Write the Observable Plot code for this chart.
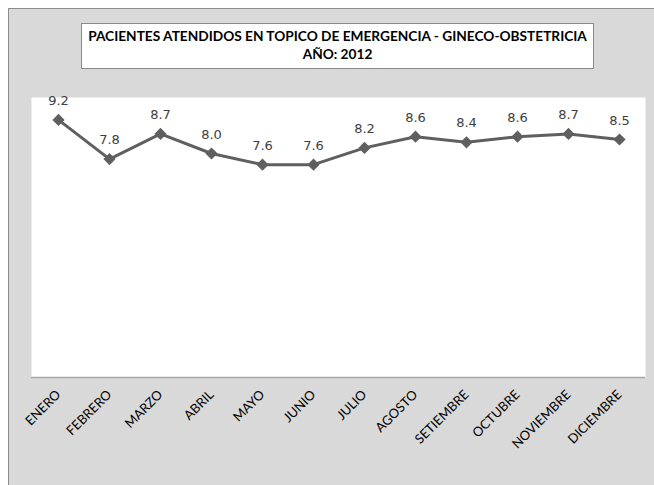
<!DOCTYPE html>
<html>
<head>
<meta charset="utf-8">
<script src="https://cdn.jsdelivr.net/npm/d3@7"></script>
<script src="https://cdn.jsdelivr.net/npm/@observablehq/plot@0.6"></script>
<style>
  html, body { margin: 0; padding: 0; background: #ffffff; }
  #wrap { position: relative; width: 654px; height: 485px; overflow: hidden; }
  #bg { position: absolute; left: 8px; top: 8px; width: 700px; height: 520px; background: #d9d9d9; border-left: 1px solid #8c8c8c; border-top: 1px solid #8c8c8c; }
  #chart { position: absolute; left: 0; top: 0; }
  #title { position: absolute; left: 81px; top: 23px; width: 511px; height: 41px; background: #fff; border: 1.5px solid #8a8a8a;
    font-family: Lato, sans-serif; font-weight: bold; font-size: 13.7px; line-height: 18px; text-align: center; color: #000; padding-top: 3px; white-space: nowrap; }
</style>
</head>
<body>
<div id="wrap">
  <div id="bg"></div>
  <div id="chart"></div>
  <div id="title">PACIENTES ATENDIDOS EN TOPICO DE EMERGENCIA - GINECO-OBSTETRICIA<br>AÑO: 2012</div>
</div>
<script>
const months = ["ENERO","FEBRERO","MARZO","ABRIL","MAYO","JUNIO","JULIO","AGOSTO","SETIEMBRE","OCTUBRE","NOVIEMBRE","DICIEMBRE"];
const values = [9.2, 7.8, 8.7, 8.0, 7.6, 7.6, 8.2, 8.6, 8.4, 8.6, 8.7, 8.5];
const valueLabels = ["9.2","7.8","8.7","8.0","7.6","7.6","8.2","8.6","8.4","8.6","8.7","8.5"];

const data = months.map((m, i) => ({month: m, value: values[i], label: valueLabels[i]}));

const chart = Plot.plot({
  width: 654,
  height: 485,
  marginLeft: 31,
  marginRight: 9,
  marginTop: 97,
  marginBottom: 108,
  style: {background: "transparent", overflow: "visible"},
  x: {type: "point", domain: months, padding: 0.5, label: null},
  y: {domain: [0, 10], axis: null},
  marks: [
    Plot.frame({fill: "white", stroke: "none"}),
    Plot.ruleY([0], {stroke: "#a6a6a6", strokeWidth: 1.5}),
    Plot.line(data, {x: "month", y: "value", stroke: "#5f5f5f", strokeWidth: 3}),
    Plot.dot(data, {x: "month", y: "value", symbol: "diamond2", r: 5.5, fill: "#5f5f5f", stroke: "none"}),
    Plot.text(data, {x: "month", y: "value", text: "label", dy: -15, lineAnchor: "bottom",
      fontSize: 13, fontFamily: "DejaVu Sans", fill: "#404040"}),
    Plot.axisX({tickSize: 0, tickPadding: 15, tickRotate: -45, textAnchor: "end",
      fontSize: 13, fontFamily: "Lato", fill: "#000", label: null})
  ]
});
document.getElementById("chart").appendChild(chart);
</script>
</body>
</html>
